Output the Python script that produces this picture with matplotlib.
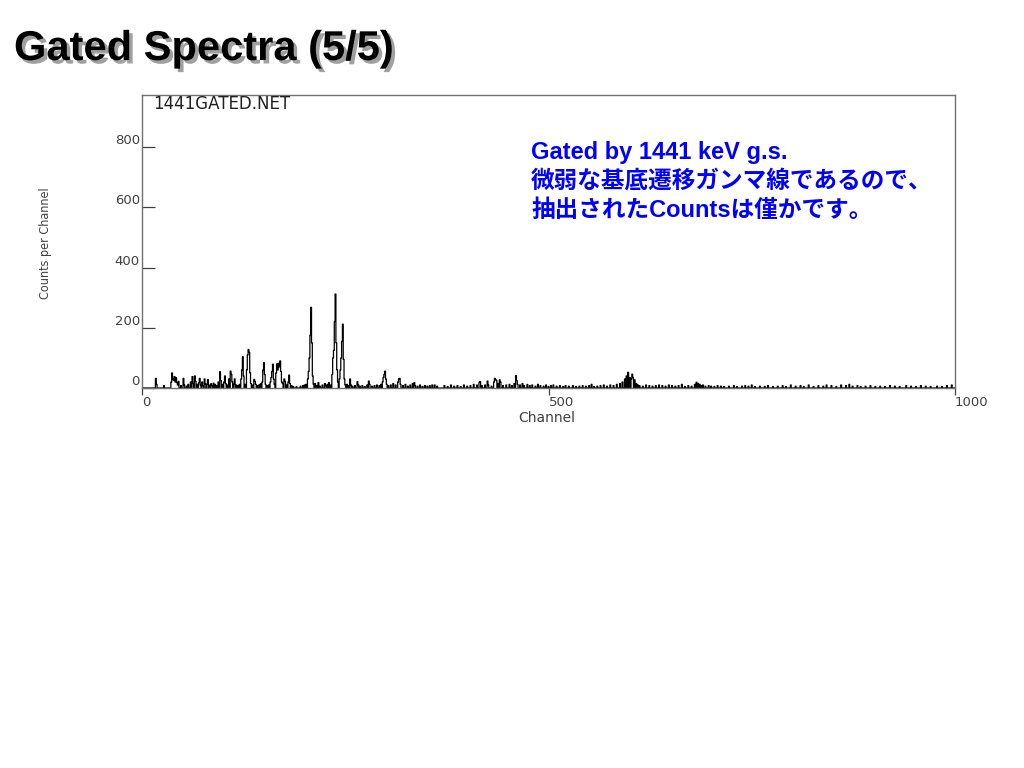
import numpy as np
import matplotlib
matplotlib.use('Agg')
import matplotlib.pyplot as plt
import matplotlib.patheffects as pe
from matplotlib import font_manager as fm

# spectrum: channel -> counts (all other channels are 0)
low_ch = [17, 18, 27, 36, 37, 38, 39, 40, 41, 42, 43, 44, 45, 48, 51, 52, 55, 57,
          60, 62, 63, 65, 66, 68, 70, 71, 72, 74, 75, 77, 78, 80, 81, 83, 85, 86, 88,
          90, 92, 94, 96, 97, 99, 101, 102, 103, 105, 107, 109, 110, 111, 113, 114,
          116, 118, 120, 122, 123, 124, 125, 127, 129, 130, 131, 132, 133, 134, 136,
          138, 139, 140, 142, 144, 146, 148, 149, 150, 151, 152, 154, 156, 158, 159,
          160, 161, 162, 163, 165, 166, 167, 168, 169, 170, 171, 172, 173, 175, 176,
          178, 180, 181, 182, 184, 186, 190, 195, 198, 200, 202, 204, 205, 206, 207,
          208, 209, 210, 211, 213, 215, 217, 219, 222, 225, 226, 228, 230, 232, 234,
          235, 236, 237, 238, 239, 240, 241, 243, 244, 245, 246, 247, 248, 249, 250,
          252, 254, 256, 257, 259, 262, 265, 266, 268, 271, 274, 277, 279, 280, 283,
          286, 289, 292, 294, 296, 297, 298, 299, 300, 301, 303, 306, 309, 312, 315,
          316, 317, 318, 321, 324, 327, 330, 333, 335, 336, 339, 342, 345, 348, 351,
          354, 357, 360, 363]
low_counts = [32, 12, 8, 20, 50, 30, 25, 38, 20, 34, 18, 10, 22, 8, 32, 10, 6, 12,
              20, 38, 15, 40, 22, 12, 18, 32, 10, 20, 8, 30, 14, 12, 28, 10, 14, 8, 16,
              12, 8, 20, 54, 25, 12, 20, 40, 15, 10, 30, 56, 45, 20, 12, 30,
              10, 8, 12, 30, 60, 104, 40, 12, 60, 110, 128, 118, 50, 15, 10,
              29, 22, 12, 8, 10, 14, 20, 60, 84, 45, 12, 8, 10, 20, 35,
              55, 79, 30, 12, 50, 80, 60, 82, 70, 90, 55, 20, 15, 30, 22,
              10, 20, 43, 15, 8, 5, 4, 6, 8, 10, 12, 30, 55, 100, 175,
              268, 150, 40, 12, 15, 8, 18, 6, 10, 15, 8, 12, 18, 10, 45,
              100, 125, 220, 312, 150, 60, 20, 30, 60, 100, 155, 212, 95, 30, 10,
              12, 8, 30, 10, 6, 8, 21, 10, 6, 8, 5, 10, 23, 12, 6,
              8, 10, 8, 12, 20, 35, 45, 56, 30, 12, 8, 10, 15, 10, 20,
              30, 32, 12, 8, 12, 6, 10, 15, 18, 8, 6, 10, 5, 8, 6,
              8, 10, 10, 6]

high_ch = [372, 376, 380, 384, 388, 392, 396, 400, 404, 408, 412, 415, 416, 418, 422,
           425, 426, 430, 433, 434, 435, 436, 438, 440, 441, 444, 448, 452, 455, 458,
           460, 461, 462, 465, 468, 470, 474, 477, 480, 484, 487, 490, 494, 497, 500,
           503, 506, 510, 514, 518, 521, 525, 530, 534, 538, 542, 546, 550, 553, 556,
           560, 564, 568, 572, 576, 580, 584, 588, 591, 594, 596, 598, 600, 602, 603,
           604, 606, 608, 610, 612, 616, 620, 624, 628, 632, 636, 640, 644, 648, 652,
           656, 660, 664, 668, 672, 676, 680, 682, 684, 686, 688, 690, 693, 697, 700,
           704, 708, 712, 716, 722, 728, 732, 738, 742, 746, 750, 754, 760, 766, 770,
           776, 782, 788, 792, 798, 804, 810, 814, 820, 826, 832, 838, 842, 848, 854,
           860, 866, 870, 874, 880, 884, 890, 896, 902, 908, 914, 920, 926, 932, 940,
           946, 952, 958, 964, 970, 978, 984, 990, 996]
high_counts = [8, 5, 10, 6, 8, 5, 10, 6, 8, 12, 10, 19, 21, 8, 10,
               23, 10, 6, 20, 32, 28, 25, 15, 27, 20, 8, 10, 12, 8, 15,
               41, 25, 12, 10, 15, 8, 12, 8, 10, 6, 12, 8, 6, 10, 5,
               8, 10, 6, 8, 5, 8, 6, 8, 5, 6, 8, 6, 8, 12, 5,
               6, 8, 10, 6, 10, 8, 12, 15, 20, 30, 40, 52, 35, 30, 46,
               35, 27, 15, 10, 8, 6, 10, 8, 6, 8, 10, 8, 6, 10, 8,
               6, 8, 12, 5, 8, 6, 12, 19, 15, 12, 8, 10, 6, 8, 6,
               5, 8, 6, 5, 6, 8, 5, 6, 8, 6, 10, 5, 6, 5, 8,
               5, 6, 8, 5, 10, 6, 8, 5, 10, 5, 8, 6, 10, 8, 5,
               10, 8, 12, 6, 8, 5, 6, 8, 5, 6, 5, 8, 6, 5, 8,
               6, 5, 8, 6, 5, 6, 5, 8, 10]

x_ticks = [0, 500, 1000]
y_ticks = [0, 200, 400, 600, 800]

title = "Gated Spectra (5/5)"
note_lines = ["Gated by 1441 keV g.s.",
              "微弱な基底遷移ガンマ線であるので、",
              "抽出されたCountsは僅かです。"]


def have(name):
    try:
        fm.findfont(fm.FontProperties(family=name), fallback_to_default=False)
        return True
    except ValueError:
        return False

narrow = 'Liberation Sans Narrow' if have('Liberation Sans Narrow') else 'DejaVu Sans'

counts = np.zeros(1001)
counts[low_ch] = low_counts
counts[high_ch] = high_counts

W, H = 1024, 768
fig = plt.figure(figsize=(W / 100, H / 100), dpi=100)
ax = fig.add_axes([142 / W, 1 - 388 / H, 813 / W, 293 / H])

ax.step(np.arange(len(counts)), counts, where='mid', color='black', lw=0.9)
ax.set_xlim(0, 1000)
ax.set_ylim(0, 973)

for s in ax.spines.values():
    s.set_color('#707070')
    s.set_linewidth(1.0)

ax.set_xticks(x_ticks)
ax.set_yticks(y_ticks)
ax.tick_params(axis='y', direction='in', length=9.5, width=0.9, color='#404040',
               labelsize=9.5, labelcolor='#404040', pad=1.5)
ax.tick_params(axis='x', direction='out', length=5, width=0.9, color='#404040',
               labelsize=9.5, labelcolor='#404040', pad=1)
for lbl in ax.get_yticklabels():
    lbl.set_va('bottom')
for lbl in ax.get_xticklabels():
    lbl.set_ha('left')

fig.text(153 / W, 1 - 104 / H, "1441GATED.NET", fontsize=12, color='#202020',
         va='center', ha='left')
fig.text(547 / W, 1 - 418 / H, "Channel", fontsize=10, color='#404040',
         ha='center', va='center')
fig.text(45 / W, 1 - 243 / H, "Counts per Channel", family=narrow,
         fontstretch='condensed', fontsize=9, color='#404040', rotation=90,
         ha='center', va='center')

fig.text(14 / W, 1 - 60 / H, title, family='Liberation Sans', fontweight='bold',
         fontsize=30, color='black', va='baseline', ha='left',
         path_effects=[pe.SimplePatchShadow(offset=(2.5, -2.5), shadow_rgbFace='#a0a0a0',
                                            alpha=1.0), pe.Normal()])

for i, line in enumerate(note_lines):
    fig.text(531 / W, 1 - (159 + 29 * i) / H, line,
             family=['Liberation Sans', 'Noto Sans CJK JP'], fontweight='bold',
             fontsize=17, color='#0000ff', va='baseline', ha='left')

fig.savefig('out.png', dpi=100)
